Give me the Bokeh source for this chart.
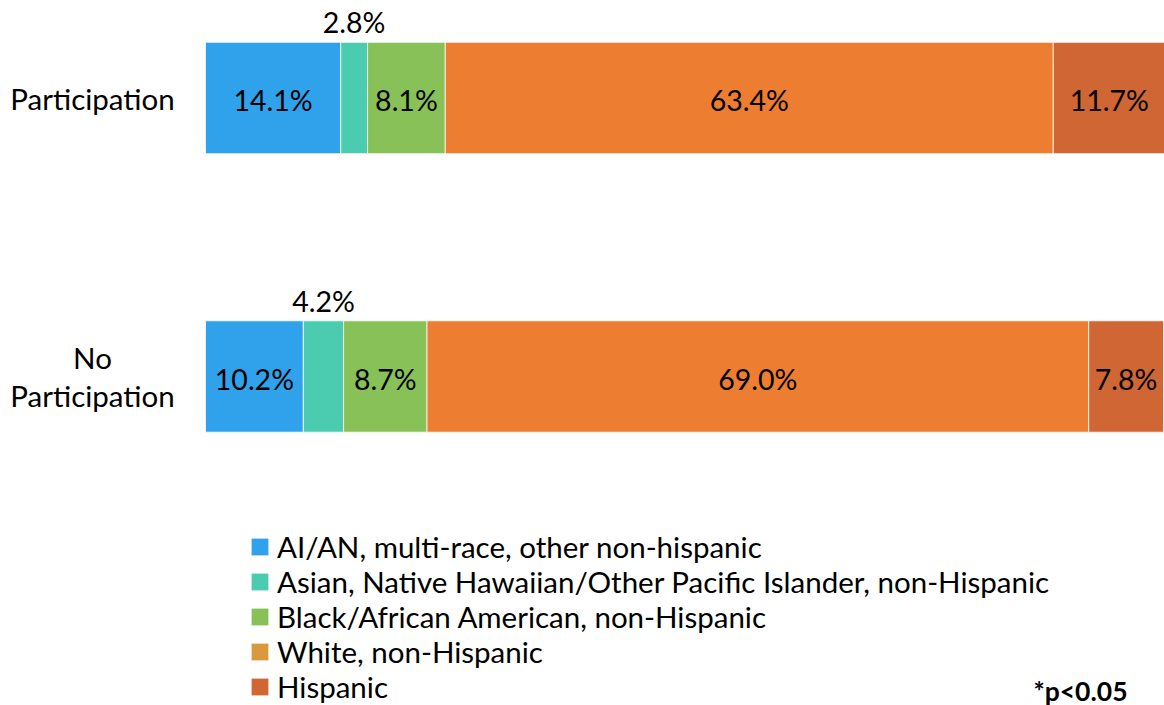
from bokeh.plotting import figure
from bokeh.models import ColumnDataSource, Range1d, Legend, LegendItem
from bokeh.core.properties import value
from bokeh.embed import file_html
from bokeh.resources import INLINE

groups = ["Participation", "No Participation"]
group_labels = ["Participation", "No\nParticipation"]
series = [
    "AI/AN, multi-race, other non-hispanic",
    "Asian, Native Hawaiian/Other Pacific Islander, non-Hispanic",
    "Black/African American, non-Hispanic",
    "White, non-Hispanic",
    "Hispanic",
]
participation = [14.1, 2.8, 8.1, 63.4, 11.7]
no_participation = [10.2, 4.2, 8.7, 69.0, 7.8]
bar_colors = ["#30A2EC", "#4BCBB0", "#88C157", "#ED7D31", "#CF6633"]
legend_colors = ["#30A2EC", "#4BCBB0", "#88C157", "#D99A3E", "#CF6633"]
note = "*p<0.05"

FONT = "Lato"
W, H = 1164, 705
PX = 9.59          # pixels per percent
X0 = -205 / PX     # left end of x range
ypos = [1, 0]
bar_h = 0.4
UY = 278.5         # pixels per y unit

p = figure(width=W, height=H, output_backend="svg", toolbar_location=None,
           x_range=Range1d(X0, X0 + W / PX),
           y_range=Range1d(1 - (H - 97.5) / UY, 1 + 97.5 / UY),
           min_border=0, outline_line_color=None)
p.axis.visible = False
p.grid.visible = False
p.background_fill_color = "white"
p.border_fill_color = "white"

values = [participation, no_participation]
cum = [0.0, 0.0]
lab_x, lab_y, lab_t, lab_off = [], [], [], []
for i, name in enumerate(series):
    lefts = [cum[g] for g in range(2)]
    rights = [cum[g] + values[g][i] for g in range(2)]
    src = ColumnDataSource(dict(y=ypos, left=lefts, right=rights))
    p.hbar(y="y", left="left", right="right", height=bar_h, source=src,
           fill_color=bar_colors[i], line_color="white", line_width=0.8)
    for g in range(2):
        v = values[g][i]
        lab_x.append((lefts[g] + rights[g]) / 2)
        lab_t.append(f"{v:.1f}%")
        if v < 5:
            lab_y.append(ypos[g] + bar_h / 2)
            lab_off.append(-20)
        else:
            lab_y.append(ypos[g])
            lab_off.append(2)
    cum = rights

lsrc = ColumnDataSource(dict(x=lab_x, y=lab_y, t=lab_t, off=lab_off))
p.text(x="x", y="y", text="t", y_offset="off", source=lsrc, text_align="center",
       text_baseline="middle", text_font=value(FONT), text_font_size="28.5px",
       text_color="black")

gsrc = ColumnDataSource(dict(x=[X0 + 92 / PX] * 2, y=ypos, t=group_labels))
p.text(x="x", y="y", text="t", source=gsrc, text_align="center",
       text_baseline="middle", text_font=value(FONT), text_font_size="29.5px",
       text_color="black", text_line_height=1.07)

items = []
nan = float("nan")
for i, name in enumerate(series):
    r = p.quad(left=[nan], right=[nan], top=[nan], bottom=[nan],
               fill_color=legend_colors[i], line_color=None)
    items.append(LegendItem(label=name, renderers=[r]))

leg = Legend(items=items, location=(249, 1), orientation="vertical",
             label_text_font=FONT, label_text_font_size="29.5px",
             label_text_color="black", glyph_width=21, glyph_height=21,
             label_height=35, label_standoff=7, spacing=0, padding=0,
             margin=0, border_line_color=None, background_fill_alpha=0)
p.add_layout(leg, "center")

nsrc = ColumnDataSource(dict(x=[X0 + 1127 / PX], y=[1 - (690 - 97.5) / UY], t=[note]))
p.text(x="x", y="y", text="t", source=nsrc, text_align="right",
       text_baseline="middle", text_font=value(FONT), text_font_size="26.5px",
       text_font_style="bold", text_color="black")

open("out.html", "w").write(file_html(p, INLINE))
